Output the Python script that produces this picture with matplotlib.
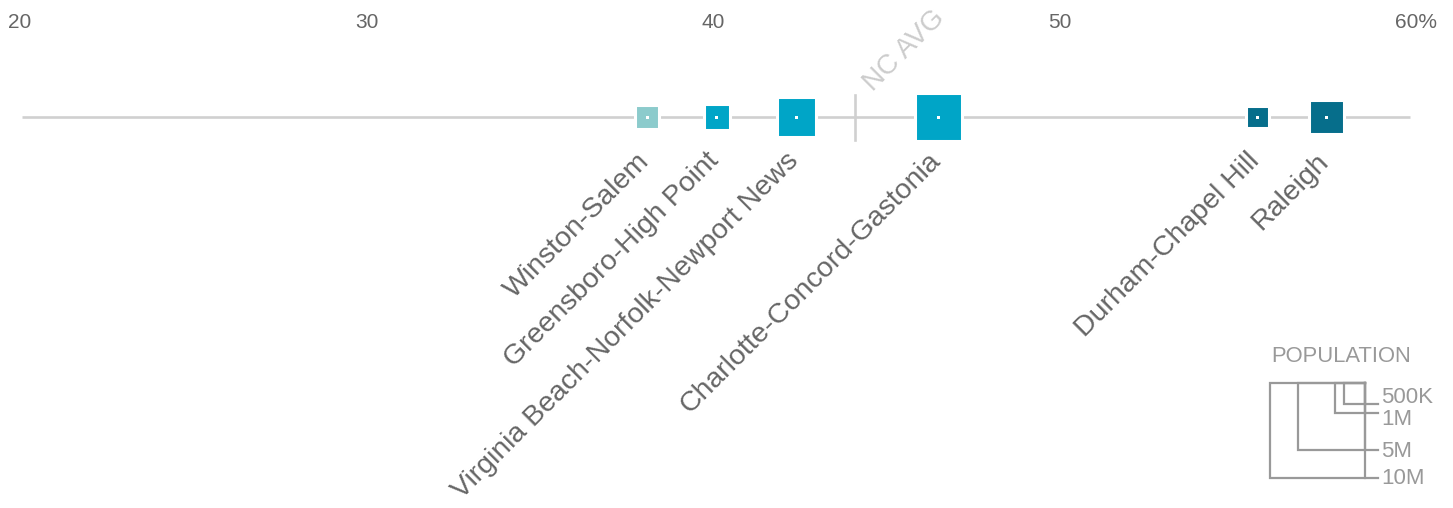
import numpy as np
import matplotlib
matplotlib.use("Agg")
import matplotlib.pyplot as plt
from matplotlib.patches import Rectangle

plt.rcParams['font.family'] = ['Liberation Sans', 'DejaVu Sans']

# share of residents (%) and metro population (millions)
cities = ["Winston-Salem", "Greensboro-High Point",
          "Virginia Beach-Norfolk-Newport News", "Charlotte-Concord-Gastonia",
          "Durham-Chapel Hill", "Raleigh"]
share = [38.1, 40.1, 42.4, 46.5, 55.7, 57.7]
population = [0.49, 0.59, 1.44, 2.15, 0.44, 1.13]
colors = ["#8ccbcc", "#00a5c7", "#00a5c7", "#00a5c7", "#066e8b", "#066e8b"]
nc_avg = 44.1
ticks = [20, 30, 40, 50, 60]
legend_pops = [0.5, 1, 5, 10]
legend_labels = ["500K", "1M", "5M", "10M"]

W, H = 1453, 508
fig = plt.figure(figsize=(W / 100, H / 100), dpi=100)
ax = fig.add_axes([0, 0, 1, 1])
x0, x1 = 19.423, 61.345
ax.set_xlim(x0, x1)
ax.set_ylim(H, 0)
ax.axis("off")
ppu = W / (x1 - x0)  # pixels per percentage point

MAX_SIDE = 95  # px side of a 10M square


def side(pop):
    return MAX_SIDE * np.sqrt(pop / 10)


line_y = 117
ax.plot([20.06, 60.1], [line_y, line_y], color="#d0d0d0", lw=1.9,
        solid_capstyle="butt", zorder=1)
ax.plot([nc_avg, nc_avg], [95, 140], color="#d0d0d0", lw=1.9, zorder=1)
ax.text(nc_avg + 18 / ppu, 92, "NC AVG", rotation=45, rotation_mode="anchor",
        ha="left", va="baseline", fontsize=20, color="#cccccc")

for t in ticks:
    if t == 60:
        ax.annotate("60%", (t, 22), xytext=(-8.5, 0), textcoords="offset points",
                    ha="left", va="center", fontsize=15, color="#666666")
    else:
        ax.text(t, 22, str(t), ha="center", va="center", fontsize=15,
                color="#666666")

for name, v, p, c in zip(cities, share, population, colors):
    s = side(p)
    ax.add_patch(Rectangle((v - (s + 3) / 2 / ppu, line_y - (s + 3) / 2),
                           (s + 3) / ppu, s + 3, facecolor=c,
                           edgecolor="white", lw=2.2, zorder=3))
    ax.add_patch(Rectangle((v - 1.5 / ppu, line_y - 1.5), 3 / ppu, 3,
                           facecolor="white", edgecolor="none", zorder=4))
    ax.text(v + 3 / ppu, 162, name, rotation=45, rotation_mode="anchor",
            ha="right", va="baseline", fontsize=20.5, color="#666666")

# size legend, in pixel coordinates
lax = fig.add_axes([0, 0, 1, 1])
lax.set_xlim(0, W)
lax.set_ylim(H, 0)
lax.axis("off")
lx, ly = 1365, 383
lax.text(1271, 357, "POPULATION", ha="left", va="center", fontsize=15.8,
         color="#999999")
label_dy = [-7, 6, 1, 0]
for p, lab, dy in zip(legend_pops, legend_labels, label_dy):
    s = side(p)
    lax.plot([lx, lx - s, lx - s, lx + 13], [ly, ly, ly + s, ly + s],
             color="#999999", lw=1.6, solid_joinstyle="miter")
    lax.plot([lx, lx], [ly, ly + s], color="#999999", lw=1.6)
    lax.text(lx + 16, ly + s + dy, lab, ha="left", va="center", fontsize=16,
             color="#999999")

fig.savefig("out.png", dpi=100)
